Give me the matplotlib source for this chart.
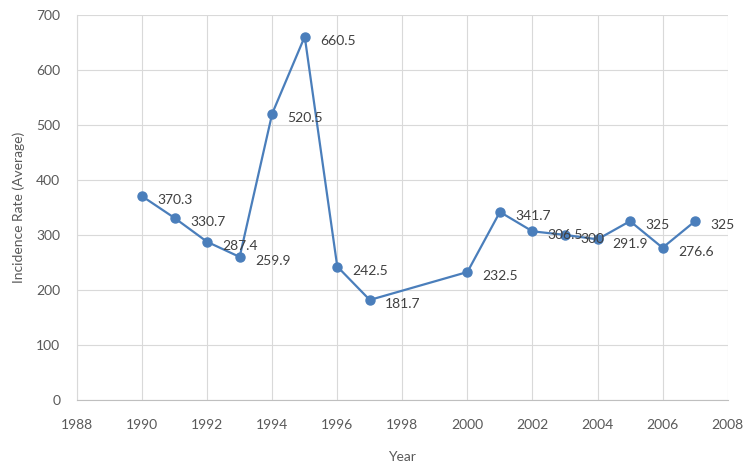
import numpy as np
import matplotlib.pyplot as plt

# yearly average incidence rate
years = [1990, 1991, 1992, 1993, 1994, 1995, 1996, 1997,
         2000, 2001, 2002, 2003, 2004, 2005, 2006, 2007]
rates = [370.3, 330.7, 287.4, 259.9, 520.5, 660.5, 242.5, 181.7,
         232.5, 341.7, 306.5, 300, 291.9, 325, 276.6, 325]
x_ticks = list(range(1988, 2009, 2))
y_ticks = list(range(0, 701, 100))

plt.rcParams['font.family'] = ['Lato', 'DejaVu Sans']

fig = plt.figure(figsize=(7.44, 4.65), dpi=100)
ax = fig.add_axes([0.1035, 0.140, 0.8745, 0.828])

line_color = '#4A7EBB'
ax.plot(years, rates, color=line_color, linewidth=1.6, marker='o',
        markersize=6.5, zorder=3)

for x, y in zip(years, rates):
    label = ('%g' % y)
    ax.annotate(label, (x, y), xytext=(11, -3), textcoords='offset points',
                fontsize=10, color='#404040', va='center', ha='left')

ax.set_xlim(1988, 2008)
ax.set_ylim(0, 700)
ax.set_xticks(x_ticks)
ax.set_yticks(y_ticks)
ax.grid(True, color='#D9D9D9', linewidth=0.8)
ax.set_axisbelow(True)

for side in ['top', 'right']:
    ax.spines[side].set_visible(False)
ax.spines['left'].set_color('#D9D9D9')
ax.spines['bottom'].set_color('#BFBFBF')

ax.tick_params(length=0, colors='#595959', labelsize=10)
ax.tick_params(axis='x', pad=14)
ax.tick_params(axis='y', pad=12)

ax.set_xlabel('Year', fontsize=10, color='#595959', labelpad=14)
ax.set_ylabel('Incidence Rate (Average)', fontsize=10, color='#595959', labelpad=8)

fig.savefig('out.png', dpi=100)
